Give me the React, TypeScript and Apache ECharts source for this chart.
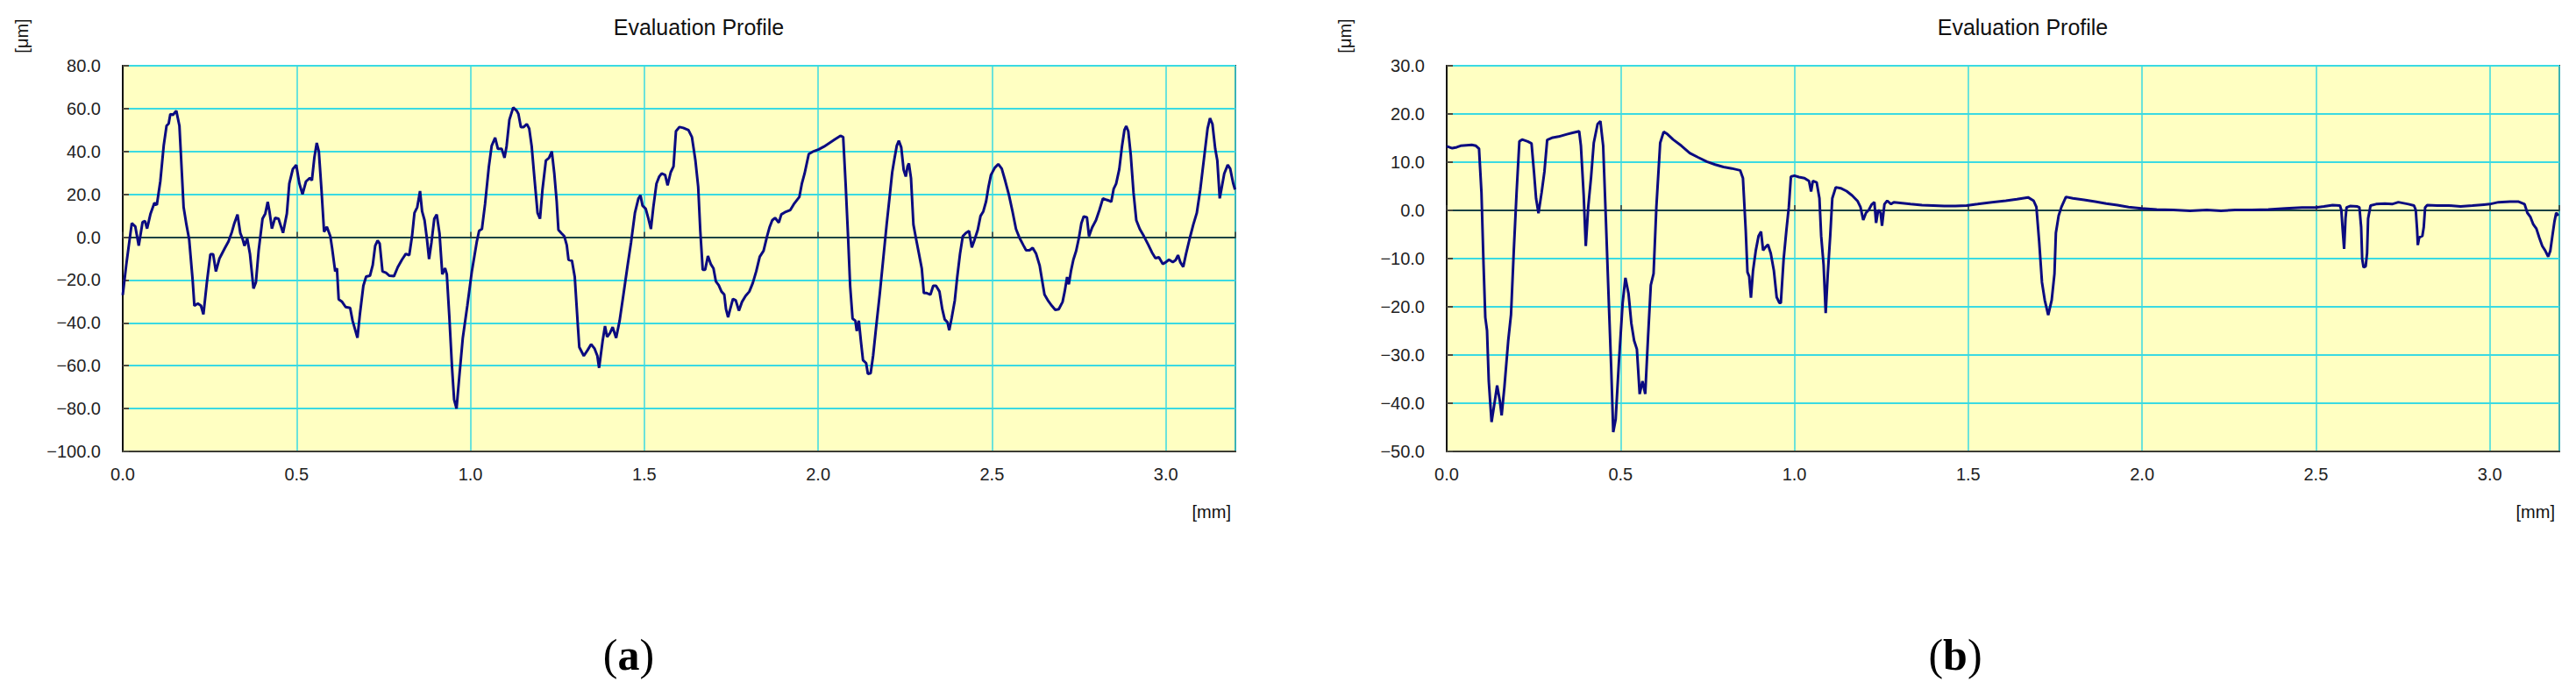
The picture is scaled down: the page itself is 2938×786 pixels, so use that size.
import React, { useEffect, useRef } from 'react';
import * as echarts from 'echarts';

// ---- data ----
const xRange = [0, 3.2];
const xInterval = 0.5;
const yRangeA = [-100, 80];
const yIntervalA = 20;
const yRangeB = [-50, 30];
const yIntervalB = 10;
const chartTitles = ['Evaluation Profile', 'Evaluation Profile'];
const captions = ['a', 'b'];
const yUnit = '[μm]';
const xUnit = '[mm]';

// profile (a): [position mm, height μm]
const profileA: number[][] = [
  [0.000,-27],[0.010,-13],[0.026,6.5],[0.036,5],[0.046,-4],[0.057,7],[0.064,7.5],[0.070,4],[0.080,11],[0.091,16],[0.098,15],[0.108,26],[0.118,43],[0.126,52],[0.132,53],[0.137,57.5],[0.144,57],[0.154,59],[0.163,52],[0.170,30],[0.175,14],[0.183,6],[0.191,-1],[0.201,-20],[0.206,-32],[0.216,-31],[0.225,-32],[0.232,-36],[0.242,-21],[0.252,-8],[0.260,-8],[0.268,-16],[0.278,-10],[0.294,-5],[0.304,-2],[0.314,2.5],[0.321,6.5],[0.330,10.6],[0.338,2],[0.345,-1],[0.350,-4],[0.358,-0.7],[0.366,-8],[0.376,-24],[0.383,-21],[0.391,-6],[0.402,8.6],[0.410,11],[0.417,16.5],[0.422,12],[0.429,4],[0.438,9],[0.448,8.6],[0.461,2],[0.472,11],[0.479,25],[0.489,31.7],[0.499,33.7],[0.508,25],[0.517,20],[0.527,26],[0.538,27.6],[0.544,26.5],[0.551,37],[0.558,44],[0.564,40],[0.572,21],[0.579,2.5],[0.587,4.8],[0.597,0.4],[0.602,-5],[0.611,-16],[0.616,-14.5],[0.621,-29],[0.630,-30],[0.641,-32.6],[0.654,-33],[0.661,-39],[0.675,-47],[0.682,-36],[0.692,-22.7],[0.700,-18.4],[0.711,-18],[0.719,-13],[0.726,-4],[0.733,-1.6],[0.739,-3],[0.747,-16],[0.757,-16.6],[0.767,-18],[0.780,-18.2],[0.791,-14],[0.803,-10.5],[0.814,-7.8],[0.824,-8.4],[0.832,0.4],[0.839,11.3],[0.847,14],[0.855,21.5],[0.861,12],[0.868,7.9],[0.875,-1],[0.881,-10.2],[0.888,-2.3],[0.896,8.6],[0.903,10.6],[0.911,1.8],[0.919,-17.3],[0.927,-14.5],[0.932,-17.3],[0.939,-36.3],[0.947,-60.8],[0.953,-75.8],[0.960,-80],[0.968,-65],[0.978,-47],[0.991,-32],[1.004,-16],[1.018,-2.3],[1.025,3],[1.033,3.8],[1.042,15.4],[1.053,33],[1.061,42.6],[1.071,46.4],[1.079,41.2],[1.090,41.2],[1.098,37],[1.104,42.6],[1.112,54.8],[1.123,60.5],[1.133,59],[1.138,57.5],[1.145,51.4],[1.153,51.4],[1.162,52.8],[1.169,50.7],[1.176,42.6],[1.184,27.6],[1.193,11.3],[1.200,8.6],[1.207,22],[1.217,35.8],[1.226,37],[1.234,40],[1.241,30],[1.248,16.7],[1.253,3.4],[1.262,1.8],[1.270,0.4],[1.277,-3.7],[1.282,-10.5],[1.292,-11],[1.300,-18.6],[1.308,-39],[1.313,-51.3],[1.326,-55.4],[1.337,-52.7],[1.347,-50],[1.357,-52],[1.365,-55.4],[1.370,-61],[1.380,-48.6],[1.387,-41.5],[1.393,-46.5],[1.401,-44.8],[1.409,-42],[1.419,-47],[1.429,-39],[1.440,-26.8],[1.452,-13.2],[1.462,-2.3],[1.473,11.3],[1.483,18],[1.489,19.5],[1.495,14.7],[1.504,13.3],[1.512,8.6],[1.519,3.8],[1.526,14],[1.535,25],[1.543,28.3],[1.550,29.7],[1.560,29],[1.567,24.2],[1.576,30.3],[1.584,33],[1.591,49.4],[1.601,51.4],
  [1.612,51],[1.627,50],[1.637,46.7],[1.647,35.8],[1.655,23.5],[1.661,3],[1.668,-15.2],[1.675,-15.2],[1.683,-8.8],[1.691,-12.5],[1.699,-14.6],[1.706,-20.7],[1.714,-22.4],[1.722,-25.4],[1.730,-26.8],[1.735,-33.6],[1.741,-37.4],[1.747,-33.6],[1.755,-28.8],[1.763,-29.5],[1.772,-34.3],[1.781,-30.2],[1.791,-27.5],[1.802,-25.4],[1.812,-21.4],[1.822,-15.9],[1.832,-9.1],[1.843,-6.4],[1.853,0.4],[1.860,4.5],[1.868,7.9],[1.876,9],[1.887,6.8],[1.894,10.6],[1.904,11.6],[1.920,12.7],[1.930,15.4],[1.946,18.8],[1.953,24.9],[1.961,29.7],[1.973,38.8],[1.987,40.1],[2.002,41],[2.017,42.3],[2.033,44],[2.048,45.6],[2.064,47.3],[2.072,46.7],[2.079,24.9],[2.086,0.4],[2.092,-22.7],[2.099,-38],[2.107,-39],[2.111,-43.8],[2.117,-39],[2.123,-48.6],[2.129,-57.4],[2.138,-58.8],[2.143,-63.8],[2.151,-63.5],[2.158,-55.4],[2.166,-43.1],[2.177,-26.8],[2.187,-10.5],[2.197,5.9],[2.206,19.5],[2.213,30.3],[2.220,37.1],[2.226,42.6],[2.232,45],[2.239,41.9],[2.246,31.4],[2.252,28.3],[2.257,33],[2.261,34.4],[2.267,27.6],[2.274,5.9],[2.281,-0.3],[2.290,-7.8],[2.298,-14.6],[2.304,-26.1],[2.312,-26.1],[2.323,-26.8],[2.331,-22.7],[2.339,-22.7],[2.349,-25.4],[2.357,-33.6],[2.364,-38.4],[2.372,-39.7],[2.377,-43.4],[2.384,-37.7],[2.393,-29.5],[2.400,-18.6],[2.408,-7.8],[2.416,0.4],[2.425,2],[2.434,2.9],[2.442,-4.8],[2.449,-1.6],[2.459,3.4],[2.467,9.9],[2.475,12],[2.483,16.7],[2.490,23.5],[2.497,29],[2.508,32.4],[2.518,34.1],[2.528,32],[2.538,26.3],[2.549,19.5],[2.559,12],[2.569,3.8],[2.579,-0.3],[2.590,-3.7],[2.598,-6.1],[2.608,-6.1],[2.617,-5],[2.627,-7.8],[2.637,-13.2],[2.644,-20],[2.651,-26.8],[2.662,-29.8],[2.672,-32],[2.682,-33.9],[2.692,-33.6],[2.703,-30.2],[2.709,-25.4],[2.716,-18.6],[2.721,-22],[2.727,-15.9],[2.734,-10.5],[2.742,-6.4],[2.750,-0.3],[2.757,6.5],[2.764,9.7],[2.773,9.3],[2.779,0.4],[2.788,4.5],[2.799,7.9],[2.809,12.7],[2.819,18.1],[2.830,17.4],[2.837,17],[2.843,16.5],[2.850,22.6],[2.857,24.9],[2.866,31.7],[2.874,42.6],[2.881,50.1],[2.886,51.8],[2.892,49.4],[2.899,38.5],[2.907,20.8],[2.915,7.9],[2.925,3.8],[2.937,0.4],[2.950,-3.7],[2.960,-7.1],[2.970,-9.8],[2.980,-9.4],[2.991,-12.5],[2.999,-11.8],[3.009,-10.5],[3.020,-11.6],[3.028,-10.7],[3.035,-8.4],[3.042,-11.8],[3.050,-13.9],[3.058,-7.8],[3.068,-1],[3.079,5.9],[3.089,11.3],[3.099,22.2],[3.110,37.1],[3.120,50.7],[3.127,55.5],[3.134,52.8],[3.142,41.2],[3.148,35.8],[3.155,18.1],[3.161,23.5],[3.168,29.7],[3.178,33.7],[3.185,32],[3.194,24.9],[3.199,22.2],
];

// profile (b): [position mm, height μm]
const profileB: number[][] = [
  [0,13.3],[0.016,12.9],[0.029,13.1],[0.040,13.4],[0.056,13.5],[0.072,13.6],[0.084,13.4],[0.093,12.8],[0.100,3.7],[0.106,-11.3],[0.111,-22.2],[0.116,-24.9],[0.121,-35.4],[0.129,-43.9],[0.137,-40.2],[0.145,-36.3],[0.153,-39.6],[0.158,-42.5],[0.166,-36.6],[0.177,-27],[0.185,-21.6],[0.193,-8.3],[0.201,3.7],[0.209,14.3],[0.217,14.7],[0.233,14.3],[0.244,13.9],[0.251,8],[0.257,2.5],[0.264,-0.6],[0.273,3.7],[0.281,8],[0.289,14.6],[0.305,15.1],[0.322,15.3],[0.346,15.8],[0.362,16.1],[0.381,16.4],[0.386,13.4],[0.394,3.1],[0.400,-7.4],[0.407,0.7],[0.415,6.7],[0.423,14],[0.434,17.9],[0.442,18.5],[0.450,13.4],[0.458,-2.3],[0.466,-18.6],[0.473,-32.4],[0.479,-46],[0.486,-43.3],[0.495,-31.8],[0.506,-19.2],[0.514,-14],[0.523,-17.3],[0.531,-23.4],[0.539,-27],[0.547,-28.8],[0.555,-38.1],[0.563,-35.4],[0.571,-38.1],[0.579,-26.4],[0.587,-15.5],[0.595,-13.1],[0.603,0.7],[0.614,14],[0.624,16.3],[0.635,15.8],[0.651,14.7],[0.675,13.4],[0.699,11.9],[0.723,11],[0.748,10.1],[0.772,9.5],[0.796,9],[0.820,8.7],[0.844,8.3],[0.852,6.7],[0.860,-4.1],[0.865,-12.8],[0.870,-13.7],[0.875,-18.1],[0.881,-12.5],[0.889,-8.3],[0.897,-5.3],[0.904,-4.4],[0.910,-8.3],[0.916,-7.7],[0.924,-7.1],[0.932,-8.9],[0.941,-12.5],[0.949,-18],[0.957,-19.2],[0.961,-19.2],[0.969,-10.1],[0.977,-4.1],[0.984,0.7],[0.990,7],[1.000,7.2],[1.013,6.9],[1.029,6.7],[1.042,6.1],[1.048,3.9],[1.053,6.1],[1.064,5.8],[1.072,2.5],[1.077,-5.3],[1.084,-11.3],[1.090,-21.3],[1.096,-13.1],[1.103,-5.3],[1.109,2.5],[1.119,4.8],[1.133,4.6],[1.150,4],[1.166,3.1],[1.182,1.9],[1.190,0.7],[1.198,-2],[1.206,-0.5],[1.214,0.1],[1.222,1.2],[1.230,1.7],[1.235,-2.6],[1.241,0.1],[1.248,-0.5],[1.252,-3.2],[1.259,1.3],[1.267,2],[1.278,1.3],[1.286,1.7],[1.310,1.5],[1.334,1.3],[1.367,1.1],[1.399,1],[1.431,0.9],[1.463,0.9],[1.495,1],[1.527,1.3],[1.568,1.7],[1.608,2],[1.640,2.3],[1.672,2.7],[1.688,2],[1.696,0.7],[1.704,-6.5],[1.712,-14.9],[1.720,-18.6],[1.730,-21.7],[1.740,-18.6],[1.748,-13.1],[1.752,-4.7],[1.760,-1.1],[1.768,0.7],[1.781,2.8],[1.801,2.5],[1.833,2.2],[1.865,1.8],[1.897,1.4],[1.929,1.1],[1.961,0.7],[1.998,0.4],[2.042,0.2],[2.090,0.1],[2.138,-0.1],[2.186,0.1],[2.227,-0.1],[2.267,0.1],[2.315,0.1],[2.363,0.2],[2.412,0.4],[2.460,0.6],
  [2.500,0.6],[2.523,0.8],[2.548,1.1],[2.569,1],[2.573,0.1],[2.577,-4.1],[2.581,-8],[2.585,-1.7],[2.588,0.6],[2.598,0.9],[2.619,0.8],[2.625,0.6],[2.630,-3.5],[2.633,-10.1],[2.637,-11.8],[2.643,-11.6],[2.647,-8.9],[2.650,-1.7],[2.657,1],[2.673,1.3],[2.698,1.4],[2.719,1.3],[2.737,1.7],[2.766,1.3],[2.782,1],[2.787,0.1],[2.791,-4.1],[2.793,-7.2],[2.797,-5.6],[2.806,-5.3],[2.810,-3.5],[2.814,0.6],[2.820,1.1],[2.849,1],[2.883,1],[2.916,0.8],[2.950,1],[2.983,1.2],[3.000,1.3],[3.025,1.7],[3.058,1.8],[3.083,1.8],[3.100,1.3],[3.108,-0.5],[3.117,-1.4],[3.125,-2.9],[3.134,-3.8],[3.142,-5.6],[3.151,-7.4],[3.159,-8.3],[3.168,-9.6],[3.174,-8.4],[3.180,-5.3],[3.186,-2.3],[3.191,-0.5],[3.197,-1.1],
];

const SANS = '"Liberation Sans", Arial, Helvetica, sans-serif';
const SERIF = '"Liberation Serif", "Times New Roman", serif';
const GRID_COLOR = '#3ADAE2';
const BG = '#FFFFC2';
const LINE = '#0B0B80';

const fmtY = (v: number) => (v < 0 ? '\u2212' : '') + Math.abs(v).toFixed(1);
const fmtX = (v: number) => v.toFixed(1);

const GRIDS = [
  { left: 140, top: 75, width: 1269, height: 440 },
  { left: 1650, top: 75, width: 1269, height: 440 },
];

function mainX(gridIndex: number) {
  return {
    type: 'value',
    gridIndex,
    min: xRange[0],
    max: xRange[1],
    interval: xInterval,
    position: 'bottom',
    axisLine: { show: true, onZero: false, lineStyle: { color: '#3c3c34', width: 2 } },
    axisTick: { show: false },
    axisLabel: {
      show: true,
      formatter: fmtX,
      showMaxLabel: false,
      margin: 16,
      fontSize: 20,
      fontFamily: SANS,
      color: '#222',
    },
    splitLine: { show: true, lineStyle: { color: GRID_COLOR, width: 1.5 } },
  };
}

function zeroX(gridIndex: number) {
  return {
    type: 'value',
    gridIndex,
    min: xRange[0],
    max: xRange[1],
    interval: xInterval,
    position: 'bottom',
    axisLine: { show: true, onZero: true, lineStyle: { color: '#111', width: 1.6 } },
    axisTick: { show: true, inside: true, length: 6, lineStyle: { color: '#333', width: 1.5 } },
    axisLabel: { show: false },
    splitLine: { show: false },
  };
}

function yAx(gridIndex: number, range: number[], interval: number) {
  return {
    type: 'value',
    gridIndex,
    min: range[0],
    max: range[1],
    interval,
    axisLine: { show: true, onZero: false, lineStyle: { color: '#111', width: 2 } },
    axisTick: { show: true, inside: true, length: 7, lineStyle: { color: '#4a4a40', width: 2 } },
    axisLabel: {
      show: true,
      formatter: fmtY,
      margin: 25,
      fontSize: 20,
      fontFamily: SANS,
      color: '#222',
    },
    splitLine: { show: true, lineStyle: { color: GRID_COLOR, width: 2 } },
  };
}

function textEl(x: number, y: number, text: string, fontSize: number, align: string, extra: any = {}) {
  return {
    type: 'text',
    x,
    y,
    ...extra,
    style: {
      text,
      fontSize,
      fontFamily: SANS,
      fill: '#111',
      align,
      verticalAlign: 'middle',
      textAlign: align,
      textVerticalAlign: 'middle',
    },
  };
}

function captionEl(x: number, letter: string) {
  return {
    type: 'text',
    x,
    y: 747,
    style: {
      text: `{p|(}{b|${letter}}{p|)}`,
      align: 'center',
      verticalAlign: 'middle',
      textAlign: 'center',
      textVerticalAlign: 'middle',
      fill: '#000',
      rich: {
        p: { fontFamily: SERIF, fontSize: 50, fontWeight: 'normal', fill: '#000' },
        b: { fontFamily: SERIF, fontSize: 50, fontWeight: 'bold', fill: '#000' },
      },
    },
  };
}

export default function App() {
  const ref = useRef<HTMLDivElement>(null);

  useEffect(() => {
    if (!ref.current) return;
    const chart = echarts.init(ref.current, undefined, { renderer: 'svg' });
    const option: any = {
      animation: false,
      backgroundColor: '#ffffff',
      grid: GRIDS.map((g) => ({
        ...g,
        show: true,
        backgroundColor: BG,
        borderColor: '#3c3c34',
        borderWidth: 2,
        containLabel: false,
      })),
      xAxis: [mainX(0), zeroX(0), mainX(1), zeroX(1)],
      yAxis: [yAx(0, yRangeA, yIntervalA), yAx(1, yRangeB, yIntervalB)],
      series: [
        {
          type: 'line',
          xAxisIndex: 0,
          yAxisIndex: 0,
          data: profileA,
          showSymbol: false,
          symbol: 'none',
          lineStyle: { color: LINE, width: 3 },
          z: 5,
        },
        {
          type: 'line',
          xAxisIndex: 2,
          yAxisIndex: 1,
          data: profileB,
          showSymbol: false,
          symbol: 'none',
          lineStyle: { color: LINE, width: 3 },
          z: 5,
        },
      ],
      graphic: [
        textEl(797, 31, chartTitles[0], 25, 'center'),
        textEl(2307, 31, chartTitles[1], 25, 'center'),
        textEl(25, 41, yUnit, 20, 'center', { rotation: Math.PI / 2 }),
        textEl(1534, 41, yUnit, 20, 'center', { rotation: Math.PI / 2 }),
        textEl(1404, 584, xUnit, 20, 'right'),
        textEl(2914, 584, xUnit, 20, 'right'),
        captionEl(717, captions[0]),
        captionEl(2230, captions[1]),
      ],
    };
    chart.setOption(option);
    return () => chart.dispose();
  }, []);

  return (
    <div
      ref={ref}
      style={{ position: 'absolute', left: 0, top: 0, width: 2938, height: 786 }}
    />
  );
}
